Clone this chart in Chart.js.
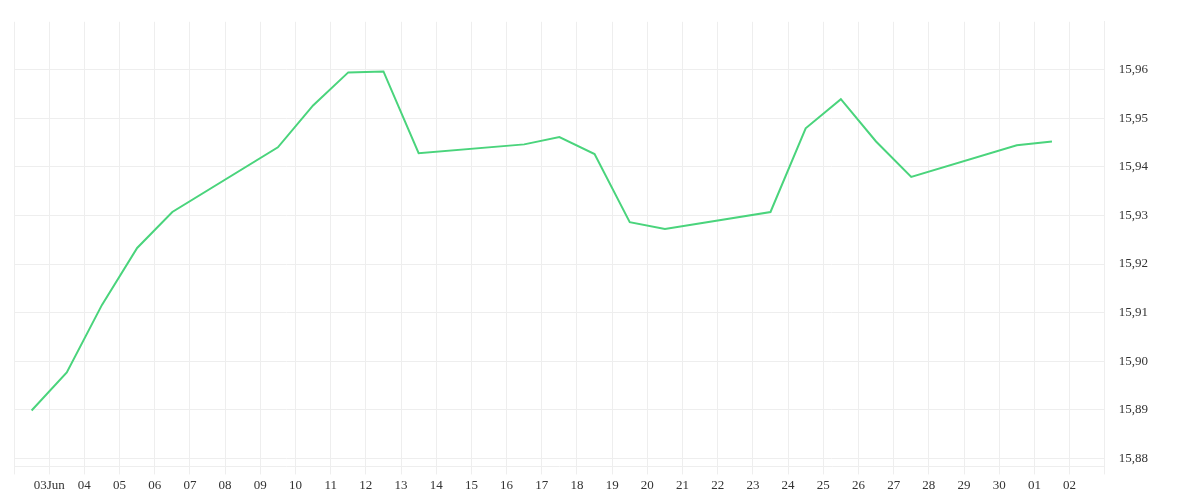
<!DOCTYPE html>
<html>
<head>
<meta charset="utf-8">
<script src="https://cdn.jsdelivr.net/npm/chart.js@4"></script>
<style>
  html, body { margin: 0; padding: 0; background: #fff; }
  #wrap { width: 1200px; height: 500px; }
</style>
</head>
<body>
<div id="wrap"><canvas id="chart"></canvas></div>
<script>
// day labels, index 0 = 03Jun
const dayLabels = ['03Jun', '04', '05', '06', '07', '08', '09', '10', '11', '12', '13', '14', '15', '16', '17',
    '18', '19', '20', '21', '22', '23', '24', '25', '26', '27', '28', '29', '30', '01', '02'];

// point positions (in days from 03Jun) and values
const pointDays = [-0.5, 0.5, 1.5, 2.5, 3.5, 6.5, 7.5, 8.5, 9.5, 10.5, 13.5, 14.5, 15.5, 16.5, 17.5,
    20.5, 21.5, 22.5, 23.5, 24.5, 27.5, 28.5];
const prices = [15.8899, 15.8977, 15.9116, 15.9233, 15.9307, 15.9440, 15.9526, 15.9594, 15.9596, 15.9428,
    15.9446, 15.9461, 15.9426, 15.9286, 15.9272, 15.9307, 15.9479, 15.9539, 15.9452, 15.9379, 15.9444, 15.9452];

const yTicks = [15.88, 15.89, 15.90, 15.91, 15.92, 15.93, 15.94, 15.95, 15.96];

const points = pointDays.map((d, i) => ({ x: d, y: prices[i] }));
const font = { family: 'Liberation Serif', size: 13 };

new Chart(document.getElementById('chart'), {
    type: 'line',
    data: {
        datasets: [{
            data: points,
            borderColor: '#4ad47c',
            borderWidth: 2,
            pointRadius: 0,
            tension: 0,
            fill: false
        }]
    },
    options: {
        responsive: true,
        maintainAspectRatio: false,
        animation: false,
        layout: { padding: { left: 14, top: 5, right: 38, bottom: 4 } },
        plugins: { legend: { display: false }, tooltip: { enabled: false } },
        scales: {
            x: {
                type: 'linear',
                min: -1,
                max: 30,
                afterBuildTicks: axis => {
                    axis.ticks = [];
                    for (let i = -1; i <= 30; i++) axis.ticks.push({ value: i });
                },
                ticks: {
                    color: '#333',
                    font: font,
                    maxRotation: 0,
                    autoSkip: false,
                    callback: v => dayLabels[v] || ''
                },
                grid: { color: '#eeeeee', drawTicks: true, tickLength: 8 },
                border: { color: '#eeeeee' }
            },
            y: {
                position: 'right',
                min: 15.8784,
                max: 15.9698,
                afterBuildTicks: axis => {
                    axis.ticks = yTicks.map(v => ({ value: v }));
                },
                ticks: {
                    color: '#333',
                    font: font,
                    padding: 14,
                    callback: v => v.toFixed(2).replace('.', ',')
                },
                grid: { color: '#eeeeee', drawTicks: false },
                border: { color: '#eeeeee' }
            }
        }
    }
});
</script>
</body>
</html>
